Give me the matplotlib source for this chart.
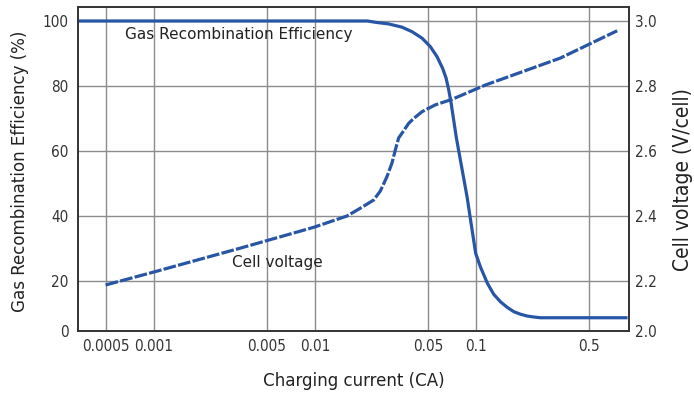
import numpy as np
import matplotlib
matplotlib.use("Agg")
import matplotlib.pyplot as plt

# charging current (CA) vs gas recombination efficiency (%)
cur_eff = [0.000337, 0.0211, 0.02361, 0.02852, 0.03455, 0.0399, 0.04603,
           0.0518, 0.057, 0.06177, 0.06487, 0.06735, 0.0697, 0.0723, 0.07514,
           0.0876, 0.0945, 0.099, 0.106, 0.117, 0.128, 0.141, 0.155, 0.171,
           0.188, 0.206, 0.227, 0.25, 0.867]
eff = [100, 100, 99.6, 99.1, 98.1, 96.7, 94.7,
       92.1, 89.0, 85.4, 82.4, 78.8, 74.7, 69.5, 64.0,
       45.8, 35.0, 28.5, 24.3, 19.1, 14.7, 11.7, 9.5, 7.7,
       6.7, 6.0, 5.6, 5.3, 5.3]

# charging current (CA) vs cell voltage (V/cell)
cur_volt = [0.0005, 0.000968, 0.00342, 0.00976, 0.01574, 0.01905, 0.02302,
            0.02535, 0.02786, 0.02993, 0.03139, 0.03292, 0.03535, 0.03798,
            0.0408, 0.04603, 0.05563, 0.07064, 0.1138, 0.3323, 0.748]
volt = [2.184, 2.226, 2.301, 2.365, 2.400, 2.424, 2.449,
        2.477, 2.521, 2.563, 2.603, 2.640, 2.662, 2.685,
        2.700, 2.721, 2.742, 2.759, 2.803, 2.886, 2.970]

x_ticks = [0.0005, 0.001, 0.005, 0.01, 0.05, 0.1, 0.5]
x_labels = ["0.0005", "0.001", "0.005", "0.01", "0.05", "0.1", "0.5"]
eff_ticks = [0, 20, 40, 60, 80, 100]
volt_ticks = [2.0, 2.2, 2.4, 2.6, 2.8, 3.0]
volt_labels = ["2.0", "2.2", "2.4", "2.6", "2.8", "3.0"]

BLUE = "#2756a6"
K = 200 / 13  # 0-20 band is drawn shorter than the others


def fwd(y):
    y = np.asarray(y, dtype=float)
    return np.where(y < 20, y * 50 / 65, y - 20 + K)


def inv(u):
    u = np.asarray(u, dtype=float)
    return np.where(u < K, u * 65 / 50, u + 20 - K)


def fwd_v(v):
    return fwd((np.asarray(v, dtype=float) - 2) * 100)


def inv_v(u):
    return inv(u) / 100 + 2


narrow = dict(family="DejaVu Sans", stretch="condensed")

fig = plt.figure(figsize=(6.94, 3.94), dpi=100)
ax = fig.add_axes([0.1124, 0.1599, 0.7939, 0.8223])
ax2 = ax.twinx()

ax.set_xscale("log")
ax.set_yscale("function", functions=(fwd, inv))
ax2.set_yscale("function", functions=(fwd_v, inv_v))
ax.set_xlim(0.000337, 0.885)
ax.set_ylim(0, 104.3)
ax2.set_ylim(2.0, 3.043)

ax.plot(cur_eff, eff, color=BLUE, lw=2.3, solid_capstyle="butt",
        solid_joinstyle="round", zorder=3)
ax2.plot(cur_volt, volt, color=BLUE, lw=2.3, ls=(0, (4, 0.7)), zorder=3)

ax.set_xticks(x_ticks)
ax.set_xticklabels(x_labels)
ax.xaxis.set_minor_locator(matplotlib.ticker.NullLocator())
ax.set_yticks(eff_ticks)
ax.set_yticklabels([str(t) for t in eff_ticks])
ax.yaxis.set_minor_locator(matplotlib.ticker.NullLocator())
ax2.set_yticks(volt_ticks)
ax2.set_yticklabels(volt_labels)
ax2.yaxis.set_minor_locator(matplotlib.ticker.NullLocator())

ax.grid(True, color="#8c8c8c", lw=1.0)
ax.set_axisbelow(True)

for a in (ax, ax2):
    for s in a.spines.values():
        s.set_color("#333333")
        s.set_linewidth(1.2)
ax.tick_params(axis="x", length=0, pad=6, labelsize=11, labelcolor="#333333")
ax.tick_params(axis="y", length=0, pad=7, labelsize=11, labelcolor="#333333")
ax2.tick_params(axis="y", length=0, pad=4, labelsize=11, labelcolor="#333333")
for lab in ax.get_xticklabels() + ax.get_yticklabels() + ax2.get_yticklabels():
    lab.set_fontstretch("condensed")
    lab.set_family("DejaVu Sans")

ax.set_xlabel("Charging current (CA)", fontsize=13.3, color="#222222", labelpad=13, **narrow)
fig.text(0.029, 0.566, "Gas Recombination Efficiency (%)", fontsize=13.3,
         color="#222222", rotation=90, ha="center", va="center", **narrow)
fig.text(0.984, 0.543, "Cell voltage (V/cell)", fontsize=15,
         color="#222222", rotation=90, ha="center", va="center", **narrow)

ax.text(0.00337, 95.7, "Gas Recombination Efficiency", family="DejaVu Sans", fontsize=11,
        color="#222222", ha="center", va="center")
ax.text(0.00585, 25.8, "Cell voltage", family="DejaVu Sans", fontsize=11,
        color="#222222", ha="center", va="center")

fig.savefig("out.png", dpi=100)
